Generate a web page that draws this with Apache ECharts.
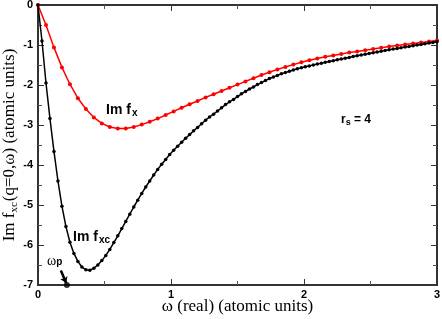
<!DOCTYPE html>
<html><head><meta charset="utf-8">
<script src="https://cdn.jsdelivr.net/npm/echarts@6/dist/echarts.min.js"></script>
<style>html,body{margin:0;padding:0;background:#fff}#c{width:442px;height:319px}</style>
</head><body><div id="c"></div>
<script>
// Im f_xc (black), sampled every 0.03
const omegaXC = [0,0.03,0.06,0.09,0.12,0.15,0.18,0.21,0.24,0.27,0.30,0.33,0.36,0.39,0.42,0.45,0.48,0.51,0.54,0.57,0.60,0.63,0.66,0.69,0.72,0.75,0.78,0.81,0.84,0.87,0.90,0.93,0.96,0.99,1.02,1.05,1.08,1.11,1.14,1.17,1.20,1.23,1.26,1.29,1.32,1.35,1.38,1.41,1.44,1.47,1.50,1.53,1.56,1.59,1.62,1.65,1.68,1.71,1.74,1.77,1.80,1.83,1.86,1.89,1.92,1.95,1.98,2.01,2.04,2.07,2.10,2.13,2.16,2.19,2.22,2.25,2.28,2.31,2.34,2.37,2.40,2.43,2.46,2.49,2.52,2.55,2.58,2.61,2.64,2.67,2.70,2.73,2.76,2.79,2.82,2.85,2.88,2.91,2.94,2.97,3.00];
const imFxc = [0,-0.90,-1.95,-2.84,-3.66,-4.40,-5.03,-5.54,-5.93,-6.21,-6.41,-6.55,-6.62,-6.63,-6.58,-6.50,-6.39,-6.26,-6.11,-5.94,-5.77,-5.59,-5.41,-5.23,-5.05,-4.88,-4.71,-4.55,-4.40,-4.25,-4.11,-3.98,-3.86,-3.74,-3.63,-3.53,-3.43,-3.33,-3.24,-3.145,-3.06,-2.97,-2.88,-2.80,-2.73,-2.65,-2.57,-2.49,-2.42,-2.36,-2.29,-2.22,-2.16,-2.10,-2.05,-1.99,-1.94,-1.89,-1.84,-1.80,-1.76,-1.72,-1.69,-1.655,-1.625,-1.595,-1.57,-1.545,-1.522,-1.50,-1.478,-1.456,-1.434,-1.413,-1.392,-1.371,-1.35,-1.33,-1.31,-1.29,-1.27,-1.25,-1.23,-1.21,-1.192,-1.174,-1.156,-1.138,-1.12,-1.103,-1.086,-1.069,-1.052,-1.035,-1.018,-1.001,-0.985,-0.969,-0.953,-0.937,-0.921];
// Im f_x (red), sampled every 0.06
const omegaX = [0,0.06,0.12,0.18,0.24,0.30,0.36,0.42,0.48,0.54,0.60,0.66,0.72,0.78,0.84,0.90,0.96,1.02,1.08,1.14,1.20,1.26,1.32,1.38,1.44,1.50,1.56,1.62,1.68,1.74,1.80,1.86,1.92,1.98,2.04,2.10,2.16,2.22,2.28,2.34,2.40,2.46,2.52,2.58,2.64,2.70,2.76,2.82,2.88,2.94,3.00];
const imFx = [0,-0.50,-1.06,-1.56,-1.98,-2.33,-2.60,-2.81,-2.96,-3.05,-3.09,-3.09,-3.05,-2.99,-2.92,-2.84,-2.75,-2.66,-2.57,-2.48,-2.40,-2.31,-2.23,-2.15,-2.07,-1.99,-1.91,-1.83,-1.75,-1.68,-1.61,-1.55,-1.49,-1.43,-1.38,-1.335,-1.295,-1.26,-1.225,-1.19,-1.16,-1.13,-1.10,-1.07,-1.04,-1.015,-0.99,-0.96,-0.935,-0.91,-0.885];
// plasma frequency marker
const omegaP = [0.217];
const omegaPArrow = [[0.172, -6.64], [0.212, -6.95]];
const xTicks = [0, 1, 2, 3];
const yTicks = [0, -1, -2, -3, -4, -5, -6, -7];

const pairs = (xs, ys) => xs.map((x, i) => [x, ys[i]]);
const chart = echarts.init(document.getElementById('c'), null, {renderer: 'canvas'});
const axisLine = {show: true, onZero: false, lineStyle: {color: '#333', width: 2}};
const lblFont = {fontFamily: 'Liberation Sans, Arial, sans-serif', fontWeight: 'bold', fontSize: 11, color: '#000'};
const serif = 'Liberation Serif, Times New Roman, serif';
const sans = 'Liberation Sans, Arial, sans-serif';
const common = (extra) => Object.assign({
  type: 'value', splitLine: {show: false}, axisLine: axisLine,
  axisTick: {show: true, inside: true, length: 6, lineStyle: {color: '#333', width: 1}},
  minorTick: {show: true, splitNumber: 2, length: 4, lineStyle: {color: '#555', width: 1}},
  minorSplitLine: {show: false}, nameMoveOverlap: false
}, extra);

chart.setOption({
  animation: false,
  grid: {left: 38, right: 5, top: 5, bottom: 34, containLabel: false, outerBoundsMode: 'none'},
  xAxis: [
    common({min: 0, max: 3, interval: 1, position: 'bottom',
      axisLabel: Object.assign({margin: 4, formatter: v => xTicks.includes(v) ? String(v) : ''}, lblFont),
      name: 'ω (real) (atomic units)', nameLocation: 'middle', nameGap: 13,
      nameTextStyle: {fontFamily: serif, fontSize: 17, color: '#000'}}),
    common({min: 0, max: 3, interval: 1, position: 'top', axisLabel: {show: false}})
  ],
  yAxis: [
    common({min: -7, max: 0, interval: 1, position: 'left',
      axisLabel: Object.assign({margin: 5, formatter: v => yTicks.includes(v) ? String(v) : ''}, lblFont),
      name: '{m|Im f}{s|xc}{m|(q=0,ω) (atomic units)}', nameLocation: 'middle', nameGap: 18,
      nameTextStyle: {fontFamily: serif, fontSize: 17, color: '#000',
        rich: {m: {fontFamily: serif, fontSize: 17, lineHeight: 20, verticalAlign: 'middle'},
               s: {fontFamily: serif, fontSize: 11, lineHeight: 20, verticalAlign: 'bottom', padding: [0, 1, 0, 0]}}}}),
    common({min: -7, max: 0, interval: 1, position: 'right', axisLabel: {show: false}})
  ],
  series: [
    {type: 'line', data: pairs(omegaX, imFx), xAxisIndex: 0, yAxisIndex: 0,
      lineStyle: {color: '#ff0000', width: 1.5}, itemStyle: {color: '#ff0000'},
      symbol: 'circle', symbolSize: 4, showSymbol: true, smooth: false, z: 3},
    {type: 'line', data: pairs(omegaXC, imFxc), xAxisIndex: 0, yAxisIndex: 0,
      lineStyle: {color: '#000', width: 1.5}, itemStyle: {color: '#000'},
      symbol: 'circle', symbolSize: 3.5, showSymbol: true, smooth: false, z: 4},
    {type: 'lines', coordinateSystem: 'cartesian2d', xAxisIndex: 0, yAxisIndex: 0,
      data: [{coords: omegaPArrow}], symbol: ['none', 'arrow'], symbolSize: 6,
      lineStyle: {color: '#000', width: 2.5, opacity: 1}, z: 5},
    {type: 'scatter', data: omegaP.map(w => [w, -7]), symbol: 'circle', symbolSize: 6,
      itemStyle: {color: '#000'}, z: 6, clip: false}
  ],
  graphic: [
    {type: 'text', left: 106, top: 103, style: {
      text: '{m|Im f}{s|x}', rich: {
        m: {fontFamily: sans, fontWeight: 'bold', fontSize: 14, lineHeight: 16, verticalAlign: 'middle'},
        s: {fontFamily: sans, fontWeight: 'bold', fontSize: 10, lineHeight: 16, verticalAlign: 'bottom', padding: [0, 0, 0, 1]}}}},
    {type: 'text', left: 73, top: 230, style: {
      text: '{m|Im f}{s|xc}', rich: {
        m: {fontFamily: sans, fontWeight: 'bold', fontSize: 14, lineHeight: 16, verticalAlign: 'middle'},
        s: {fontFamily: sans, fontWeight: 'bold', fontSize: 10, lineHeight: 16, verticalAlign: 'bottom', padding: [0, 0, 0, 1]}}}},
    {type: 'text', left: 341, top: 114, style: {
      text: '{m|r}{s|s}{m| = 4}', rich: {
        m: {fontFamily: sans, fontWeight: 'bold', fontSize: 12, lineHeight: 14, verticalAlign: 'middle'},
        s: {fontFamily: sans, fontWeight: 'bold', fontSize: 9, lineHeight: 14, verticalAlign: 'bottom'}}}},
    {type: 'text', left: 47, top: 254, style: {
      text: '{m|ω}{s|p}', rich: {
        m: {fontFamily: serif, fontSize: 14, lineHeight: 13, verticalAlign: 'middle'},
        s: {fontFamily: sans, fontWeight: 'bold', fontSize: 10, lineHeight: 13, verticalAlign: 'bottom'}}}}
  ]
});
</script></body></html>
